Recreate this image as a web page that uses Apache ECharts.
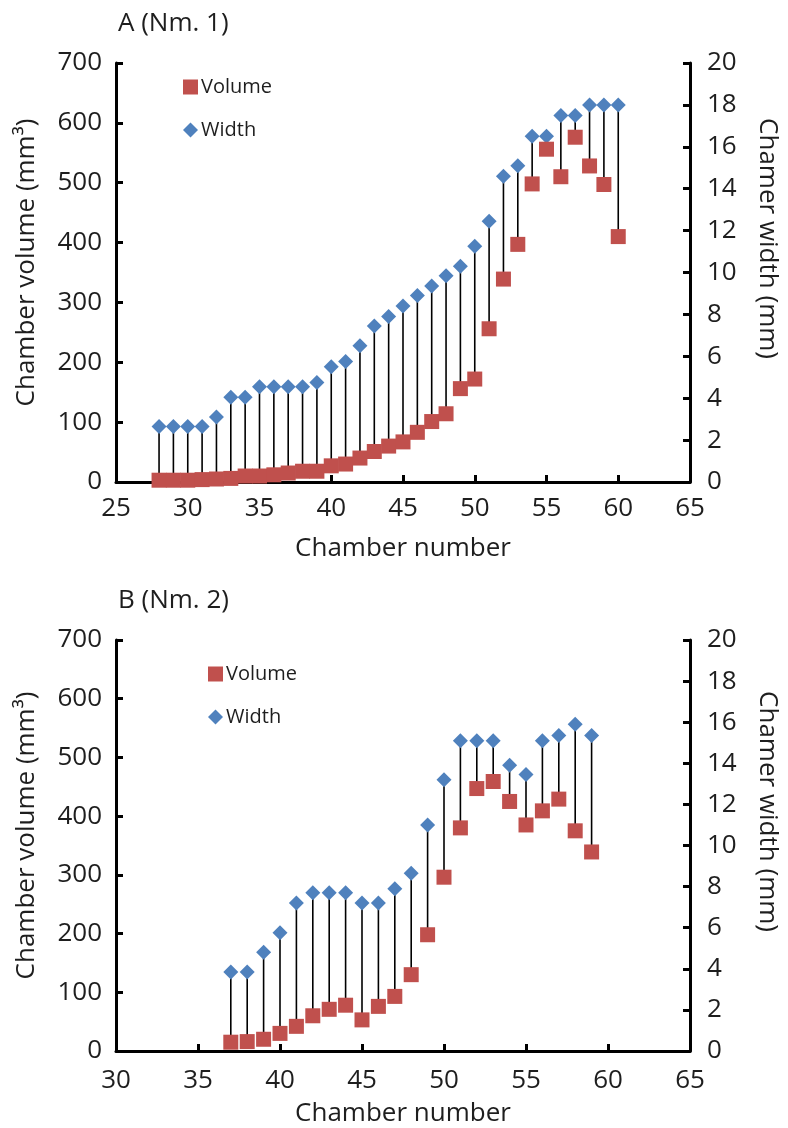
<!DOCTYPE html>
<html>
<head>
<meta charset="utf-8">
<script src="https://cdn.jsdelivr.net/npm/echarts@6/dist/echarts.min.js"></script>
<style>
  html, body { margin: 0; padding: 0; background: #fff; }
  #chart { width: 788px; height: 1128px; }
</style>
</head>
<body>
<div id="chart"></div>
<script>
// Panel A (Nm. 1)
const chambersA = [28, 29, 30, 31, 32, 33, 34, 35, 36, 37, 38, 39, 40, 41, 42, 43, 44,
  45, 46, 47, 48, 49, 50, 51, 52, 53, 54, 55, 56, 57, 58, 59, 60];
const volumeA = [3, 3, 3, 4, 5, 6, 10, 10, 12, 15, 18, 18, 27, 30, 40, 51, 60,
  67, 83, 101, 114, 156, 172, 256, 339, 397, 498, 556, 510, 576, 528, 497, 410];
const widthA = [2.65, 2.65, 2.65, 2.65, 3.1, 4.05, 4.05, 4.55, 4.55, 4.55, 4.55, 4.75, 5.5, 5.75, 6.5, 7.45, 7.9,
  8.4, 8.9, 9.35, 9.85, 10.3, 11.25, 12.45, 14.6, 15.1, 16.5, 16.5, 17.5, 17.5, 18, 18, 18];

// Panel B (Nm. 2)
const chambersB = [37, 38, 39, 40, 41, 42, 43, 44, 45, 46, 47,
  48, 49, 50, 51, 52, 53, 54, 55, 56, 57, 58, 59];
const volumeB = [15, 16, 20, 30, 42, 60, 71, 78, 53, 76, 93,
  130, 198, 296, 380, 447, 459, 425, 385, 409, 429, 375, 339];
const widthB = [3.85, 3.85, 4.8, 5.75, 7.2, 7.7, 7.7, 7.7, 7.2, 7.2, 7.9,
  8.65, 11.0, 13.2, 15.1, 15.1, 15.1, 13.9, 13.45, 15.1, 15.35, 15.9, 15.35];

const titles = ['A (Nm. 1)', 'B (Nm. 2)'];
const xRanges = [[25, 65], [30, 65]];
const VOL_MAX = 700, VOL_STEP = 100;
const WID_MAX = 20, WID_STEP = 2;

const FONT = '"Open Sans", "Noto Sans", sans-serif';
const INK = '#1e1e1e';
const RED = '#C0504D';
const BLUE = '#4F81BD';

const panels = [
  { x: chambersA, v: volumeA, w: widthA, top: 63, height: 419,
    legendTop: 72, legendLeft: 178, titleTop: 6, labelMargin: 14, nameGap: 54 },
  { x: chambersB, v: volumeB, w: widthB, top: 640, height: 417,
    legendTop: 659, legendLeft: 203, titleTop: 583, labelMargin: 17, nameGap: 50 }
];

const grid = [], xAxis = [], yAxis = [], series = [], legend = [], title = [];

panels.forEach((p, i) => {
  grid.push({ left: 116, right: 94, top: p.top, height: p.height });

  const axisLine = { show: true, lineStyle: { color: '#000', width: 3 } };
  const axisTick = { show: true, inside: true, length: 7, lineStyle: { color: '#000', width: 3 } };
  const label = { color: INK, fontFamily: FONT, fontSize: 26 };

  xAxis.push({
    type: 'value', gridIndex: i, min: xRanges[i][0], max: xRanges[i][1], interval: 5,
    axisLine, axisTick, splitLine: { show: false },
    axisLabel: Object.assign({ margin: p.labelMargin }, label),
    name: 'Chamber number', nameLocation: 'middle', nameGap: p.nameGap,
    nameTextStyle: { color: INK, fontFamily: FONT, fontSize: 26 }
  });
  yAxis.push({
    type: 'value', gridIndex: i, min: 0, max: VOL_MAX, interval: VOL_STEP, position: 'left',
    axisLine, axisTick, splitLine: { show: false },
    axisLabel: Object.assign({ margin: 14 }, label),
    name: 'Chamber volume (mm³)', nameLocation: 'middle', nameGap: 76, nameRotate: 90,
    nameTextStyle: { color: INK, fontFamily: FONT, fontSize: 26, padding: [0, 0, 0, 20] }
  });
  yAxis.push({
    type: 'value', gridIndex: i, min: 0, max: WID_MAX, interval: WID_STEP, position: 'right',
    axisLine, axisTick, splitLine: { show: false },
    axisLabel: Object.assign({ margin: 17 }, label),
    name: 'Chamer width (mm)', nameLocation: 'middle', nameGap: 64, nameRotate: -90,
    nameTextStyle: { color: INK, fontFamily: FONT, fontSize: 26, padding: [0, 68, 0, 0] }
  });

  const volAxis = i * 2, widAxis = i * 2 + 1;

  // vertical connector from each chamber's width point to its volume point
  series.push({
    type: 'custom', xAxisIndex: i, yAxisIndex: volAxis, z: 1, silent: true,
    data: p.x.map((c, k) => [c, p.v[k], p.w[k] * VOL_MAX / WID_MAX]),
    renderItem: (params, api) => {
      const a = api.coord([api.value(0), api.value(1)]);
      const b = api.coord([api.value(0), api.value(2)]);
      return { type: 'line', shape: { x1: a[0], y1: a[1], x2: b[0], y2: b[1] },
        style: { stroke: '#000', lineWidth: 1.6 } };
    }
  });
  series.push({
    name: 'Width', type: 'scatter', xAxisIndex: i, yAxisIndex: widAxis, z: 3,
    symbol: 'diamond', symbolSize: 15,
    itemStyle: { color: BLUE, opacity: 1 },
    data: p.x.map((c, k) => [c, p.w[k]])
  });
  series.push({
    name: 'Volume', type: 'scatter', xAxisIndex: i, yAxisIndex: volAxis, z: 4,
    symbol: 'rect', symbolSize: 15,
    itemStyle: { color: RED, opacity: 1 },
    data: p.x.map((c, k) => [c, p.v[k]])
  });

  legend.push({
    orient: 'vertical', left: p.legendLeft, top: p.legendTop,
    itemWidth: 15, itemHeight: 15, itemGap: 23,
    data: [{ name: 'Volume', icon: 'rect' }, { name: 'Width', icon: 'diamond' }],
    itemStyle: { opacity: 1 },
    textStyle: { color: INK, fontFamily: FONT, fontSize: 20, padding: [0, 0, 0, -2] }
  });

  title.push({
    text: titles[i], left: 113, top: p.titleTop,
    textStyle: { color: INK, fontFamily: FONT, fontSize: 26, fontWeight: 'normal' }
  });
});

const chart = echarts.init(document.getElementById('chart'), null, { renderer: 'canvas' });
chart.setOption({
  backgroundColor: '#fff',
  animation: false,
  title, grid, xAxis, yAxis, series, legend
});
</script>
</body>
</html>
